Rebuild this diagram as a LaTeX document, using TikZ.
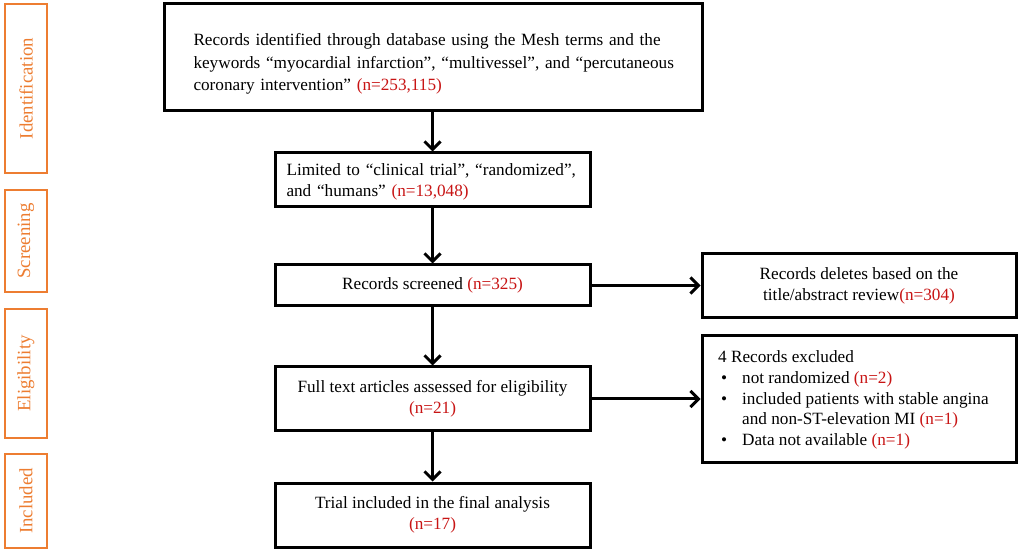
\documentclass[tikz,border=0pt]{standalone}
\usepackage{fontspec}
\setmainfont{Liberation Serif}
\usetikzlibrary{arrows.meta}
\definecolor{flowred}{RGB}{200,20,20}
\definecolor{flowor}{RGB}{237,125,49}
\newcommand{\nred}[1]{\textcolor{flowred}{#1}}
\begin{document}
\begin{tikzpicture}[x=1pt,y=-1pt,
  box/.style={draw=black, line width=3pt, inner sep=0pt, fill=white,
    font=\fontsize{17.2}{21}\selectfont},
  stage/.style={draw=flowor, line width=2.8pt, inner sep=0pt, minimum width=42pt,
    text=flowor, font=\fontsize{18.8}{22}\selectfont},
  arr/.style={line width=3pt, -{Straight Barb[length=8pt,width=16pt,line width=3pt]}}]
\useasboundingbox[fill=white] (0,0) rectangle (1021,553);
% stage boxes
\node[stage, minimum height=169pt] (s1) at (26,88.5) {\rotatebox{90}{Identification}};
\node[stage, minimum height=102pt] (s2) at (26,241) {\rotatebox{90}{Screening}};
\node[stage, minimum height=129pt] (s3) at (26,373.5) {\rotatebox{90}{Eligibility}};
\node[stage, minimum height=94pt] (s4) at (26,501) {\rotatebox{90}{Included}};
% main boxes
\node[box, minimum width=538pt, minimum height=107pt] (b1) at (433,57.5) {};
\node[font=\fontsize{17.2}{22.5}\selectfont, text width=479pt, align=left, inner sep=0pt] (t1) at (433,64)
  {\makebox[479pt][s]{Records identified through database using the Mesh terms and the}\\
   \makebox[479pt][s]{keywords “myocardial infarction”, “multivessel”, and “percutaneous}\\
   coronary intervention” \nred{(n=253,115)}};
\node[box, minimum width=315pt, minimum height=54pt] (b2) at (432.5,180) {};
\node[font=\fontsize{17.2}{20.5}\selectfont, text width=295pt, align=left, inner sep=0pt] (t2) at (434,182)
  {Limited to “clinical trial”, “randomized”,\\ and “humans” \nred{(n=13,048)}};
\node[box, minimum width=315pt, minimum height=41pt] (b3) at (432.5,285.5) {Records screened \nred{(n=325)}};
\node[box, minimum width=315pt, minimum height=64pt, align=center] (b4) at (432.5,399)
  {Full text articles assessed for eligibility\\ \nred{(n=21)}};
\node[box, minimum width=315pt, minimum height=64pt, align=center] (b5) at (432.5,515)
  {Trial included in the final analysis\\ \nred{(n=17)}};
% right boxes
\node[box, minimum width=314pt, minimum height=64pt, align=center] (r1) at (859,286)
  {Records deletes based on the\\ title/abstract review\nred{(n=304)}};
\node[box, minimum width=314pt, minimum height=127pt] (r2) at (859,399.5) {};
\node[font=\fontsize{17.2}{20.7}\selectfont, align=left, inner sep=0pt, anchor=west] (t6) at (718,400)
  {4 Records excluded\\
   \makebox[24pt][l]{\hspace{3pt}•}not randomized \nred{(n=2)}\\
   \makebox[24pt][l]{\hspace{3pt}•}included patients with stable angina\\
   \hspace*{24pt}and non-ST-elevation MI \nred{(n=1)}\\
   \makebox[24pt][l]{\hspace{3pt}•}Data not available \nred{(n=1)}};
% arrows
\draw[arr] (b1.south -| b2.north) -- (b2.north);
\draw[arr] (b2.south) -- (b3.north);
\draw[arr] (b3.south) -- (b4.north);
\draw[arr] (b4.south) -- (b5.north);
\draw[arr] (b3.east) -- (r1.west |- b3.east);
\draw[arr] (b4.east) -- (r2.west |- b4.east);
\end{tikzpicture}
\end{document}
